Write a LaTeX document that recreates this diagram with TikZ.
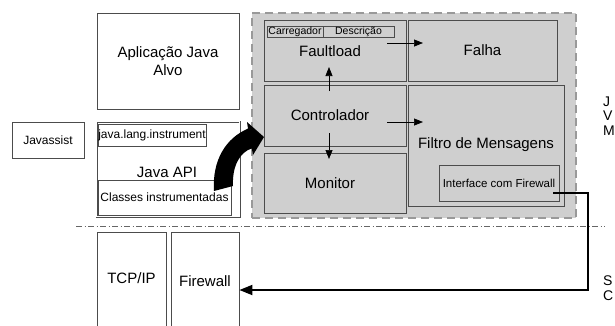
\documentclass[tikz,border=0pt]{standalone}
\usepackage{fontspec}
\setmainfont{Liberation Sans}
\usetikzlibrary{arrows.meta}
\definecolor{regiongray}{gray}{0.81}
\definecolor{dashgray}{gray}{0.6}
\definecolor{boxline}{gray}{0.3}
\begin{document}
\begin{tikzpicture}[x=1pt,y=-1pt,
  box/.style={draw=boxline, line width=0.8pt, inner sep=0pt, align=center},
  bigtxt/.style={font=\fontsize{15}{18}\selectfont, inner sep=0pt, align=center},
  smalltxt/.style={font=\fontsize{12}{14}\selectfont},
  tinytxt/.style={font=\fontsize{10.5}{11}\selectfont},
  sidetxt/.style={font=\fontsize{14}{14.5}\selectfont, inner sep=0pt, align=left, anchor=west},
  smallarrow/.style={draw=black, line width=0.7pt, -{Triangle[length=9pt,width=7pt]}},
  fwarrow/.style={draw=black, line width=1.8pt, -{Triangle[length=13pt,width=10pt]}},
  regionbox/.style={draw=dashgray, fill=regiongray, line width=1.8pt, dash pattern=on 8pt off 5pt, inner sep=0pt},
  sepline/.style={draw=gray!80!black, line width=0.7pt, dash pattern=on 6pt off 2.5pt on 1pt off 2.5pt}
]
\useasboundingbox (0,0) rectangle (615,325);
\clip (0,0) rectangle (615,325);

% left column
\node[box, bigtxt, minimum width=142, minimum height=96] (app) at (168,61) {Aplicação Java\\Alvo};
\node[box, smalltxt, minimum width=72, minimum height=36] (javassist) at (48,140) {Javassist};
\node[box, draw=boxline, line width=0.5pt, double=white, double distance=1pt, minimum width=143, minimum height=95] (javaapi) at (168,169) {};
\node[box, smalltxt, minimum width=108, minimum height=22] (jli) at (152,135) {java.lang.instrument};
\node[bigtxt] (javaapitxt) at (167,172) {Java API};
\node[box, smalltxt, minimum width=133, minimum height=35] (classes) at (164.5,197.5) {Classes instrumentadas};

% dashed region
\node[regionbox, minimum width=324, minimum height=205] (region) at (414,115.5) {};

\node[box, minimum width=142, minimum height=61] (faultload) at (335,50.5) {};
\node[bigtxt] (faultloadtxt) at (330,51) {Faultload};
\node[box, tinytxt, minimum width=56, minimum height=11] (carregador) at (295,31.5) {Carregador};
\node[box, tinytxt, minimum width=71, minimum height=11] (descricao) at (358.5,31.5) {Descrição};
\node[box, bigtxt, minimum width=149, minimum height=61] (falha) at (482.5,50.5) {Falha};
\node[box, minimum width=142, minimum height=61] (controlador) at (335,115.5) {};
\node[bigtxt] (controladortxt) at (330,115) {Controlador};
\node[box, minimum width=142, minimum height=60] (monitor) at (335,183) {};
\node[bigtxt] (monitortxt) at (330,183) {Monitor};
\node[box, bigtxt, minimum width=156, minimum height=121] (filtro) at (486,145.5) {};
\node[bigtxt] (filtrotxt) at (486,145) {Filtro de Mensagens};
\node[box, font=\fontsize{11.5}{13}\selectfont, minimum width=120, minimum height=36] (interface) at (499,183) {Interface com Firewall};

% inner arrows
\coordinate (a1s) at (387,43);  \coordinate (a1e) at (423,43);
\coordinate (a2s) at (329,91);  \coordinate (a2e) at (329,67);
\coordinate (a3s) at (387,122); \coordinate (a3e) at (423,122);
\coordinate (a4s) at (329,133); \coordinate (a4e) at (329,159);
\draw[smallarrow] (a1s) -- (a1e);
\draw[smallarrow] (a2s) -- (a2e);
\draw[smallarrow] (a3s) -- (a3e);
\draw[smallarrow] (a4s) -- (a4e);

% separator
\coordinate (sepl) at (76,226);
\coordinate (sepr) at (605,226);
\draw[sepline] (sepl) -- (sepr);

% bottom column
\node[box, minimum width=69, minimum height=98] (tcpip) at (131.5,281) {};
\node[bigtxt] (tcpiptxt) at (131.5,278) {TCP/IP};
\node[box, bigtxt, minimum width=68, minimum height=98] (firewall) at (205,281) {Firewall};

% interface -> firewall
\coordinate (ifs) at (553,193);
\coordinate (c1) at (588,193);
\coordinate (c2) at (588,290);
\draw[fwarrow] (ifs) -- (c1) -- (c2) -- (c2 -| firewall.east);

% big curved arrow
\fill[black] (214,191) .. controls (212,160) and (226,138) .. (248,128.6)
  -- (247,122) -- (264,137) -- (253,155) -- (251.8,148.4)
  .. controls (240,152) and (232,166) .. (233,186) -- cycle;

% side labels
\node[sidetxt] (jvm) at (603,116) {J\\V\\M};
\node[sidetxt] (so) at (603,288) {S\\C};
\end{tikzpicture}
\end{document}
